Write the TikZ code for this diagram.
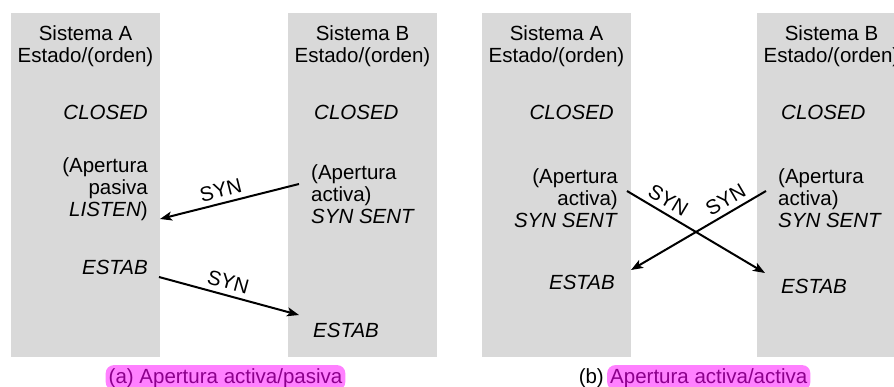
\documentclass[tikz,border=0pt]{standalone}
\usepackage{fontspec}
\setmainfont{Liberation Sans}
\usetikzlibrary{arrows.meta}
\definecolor{colgray}{HTML}{D9D9D9}
\definecolor{hilite}{HTML}{FF80FF}
\definecolor{captxt}{HTML}{8C008C}
\begin{document}
\begin{tikzpicture}[x=1pt,y=-1pt,
  font=\fontsize{20.5}{22}\selectfont,
  column/.style={fill=colgray},
  txt/.style={inner sep=0pt},
  msg/.style={line width=2pt,-{Stealth[length=12pt,width=9pt,inset=3pt]}},
  synlbl/.style={sloped,above=1pt,inner sep=4pt},
  capbox/.style={fill=hilite,rounded corners=8pt,inner sep=3pt,text=captxt}]
\useasboundingbox (0,0) rectangle (894,387);

% ---------- (a) active/passive open ----------
% multi-line nodes are placed by the baseline of their last line
\fill[column] (11,13) rectangle (160,357);
\fill[column] (288,13) rectangle (437,357);

\node[txt,align=center,anchor=base] (aAhead) at (85.5,63) {Sistema A\\Estado/(orden)};
\node[txt,anchor=base east] (aAclosed) at (148,120) {\textit{CLOSED}};
\node[txt,align=right,anchor=base east] (aApas) at (148,217) {(Apertura\\pasiva\\\textit{LISTEN})};
\node[txt,anchor=base east] (aAestab) at (148,275) {\textit{ESTAB}};

\node[txt,align=center,anchor=base] (aBhead) at (362.5,63) {Sistema B\\Estado/(orden)};
\node[txt,anchor=base west] (aBclosed) at (314,120) {\textit{CLOSED}};
\node[txt,align=left,anchor=base west] (aBact) at (311,224) {(Apertura\\activa)\\\textit{SYN SENT}};
\node[txt,anchor=base west] (aBestab) at (313,337) {\textit{ESTAB}};

\coordinate (a1s) at (299,184);
\coordinate (a1e) at (160,219);
\coordinate (a2s) at (159,277);
\coordinate (a2e) at (299,315);
\draw[msg] (a1s) -- node[synlbl,pos=0.54] (a1lbl) {SYN} (a1e);
\draw[msg] (a2s) -- node[synlbl,pos=0.47] (a2lbl) {SYN} (a2e);

\node[capbox,anchor=base] (capA) at (225.5,383) {(a) Apertura activa/pasiva};

% ---------- (b) simultaneous active open ----------
\fill[column] (482,13) rectangle (631,357);
\fill[column] (757,13) rectangle (894,357);

\node[txt,align=center,anchor=base] (bAhead) at (556.5,63) {Sistema A\\Estado/(orden)};
\node[txt,anchor=base east] (bAclosed) at (614,120) {\textit{CLOSED}};
\node[txt,align=right,anchor=base east] (bAact) at (618,228) {(Apertura\\activa)\\\textit{SYN SENT}};
\node[txt,anchor=base east] (bAestab) at (615,290) {\textit{ESTAB}};

\node[txt,align=center,anchor=base] (bBhead) at (831.5,63) {Sistema B\\Estado/(orden)};
\node[txt,anchor=base west] (bBclosed) at (781,120) {\textit{CLOSED}};
\node[txt,align=left,anchor=base west] (bBact) at (778,228) {(Apertura\\activa)\\\textit{SYN SENT}};
\node[txt,anchor=base west] (bBestab) at (781,294) {\textit{ESTAB}};

\coordinate (b1s) at (627,191);
\coordinate (b1e) at (765,273);
\coordinate (b2s) at (766,191);
\coordinate (b2e) at (631,270);
\draw[msg] (b1s) -- node[synlbl,pos=0.25] (b1lbl) {SYN} (b1e);
\draw[msg] (b2s) -- node[synlbl,pos=0.25] (b2lbl) {SYN} (b2e);

\node[capbox,anchor=base west] (capB) at (607,383) {Apertura activa/activa};
\node[txt,anchor=base east] (capBtag) at ([xshift=-3pt]capB.base west) {(b)};
\end{tikzpicture}
\end{document}
